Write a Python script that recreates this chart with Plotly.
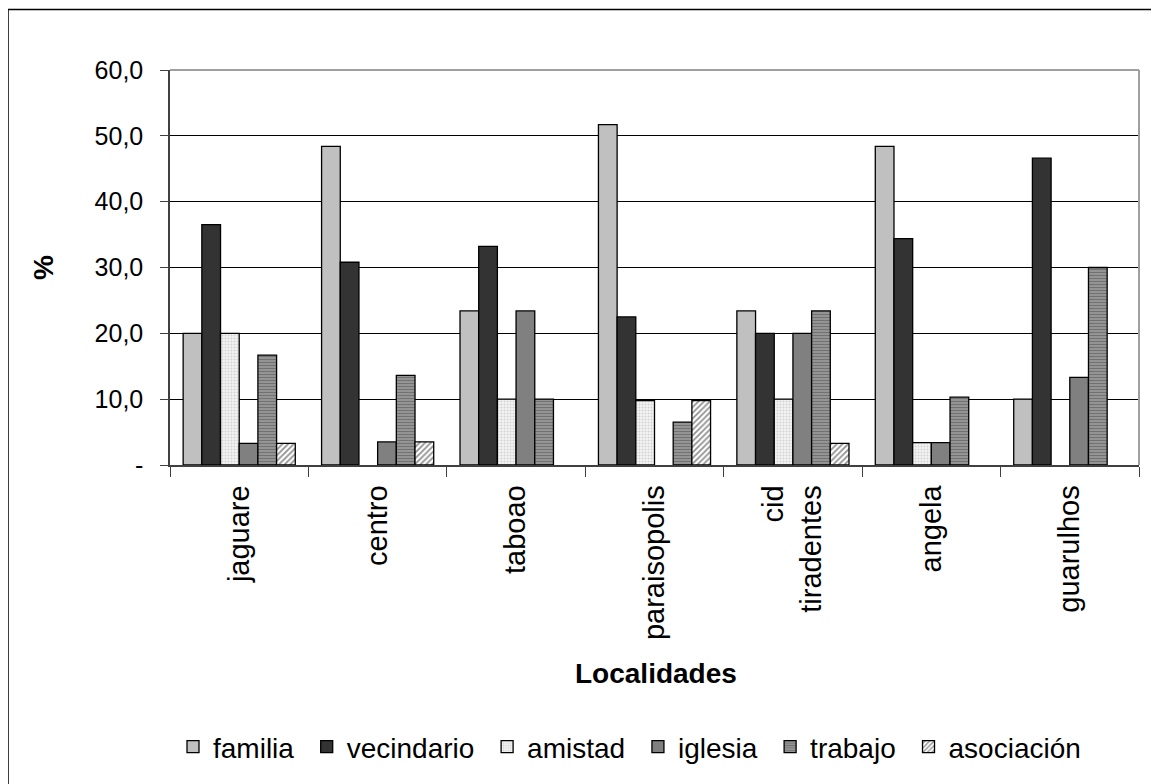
import plotly.graph_objects as go

categories = ["jaguare", "centro", "taboao", "paraisopolis", "cid<br>tiradentes", "angela", "guarulhos"]
familia    = [20.0, 48.4, 23.4, 51.7, 23.4, 48.4, 10.0]
vecindario = [36.5, 30.8, 33.2, 22.5, 20.0, 34.4, 46.6]
amistad    = [20.0, 0.0, 10.0, 9.8, 10.0, 3.4, 0.0]
iglesia    = [3.3, 3.5, 23.4, 0.0, 20.0, 3.4, 13.3]
trabajo    = [16.7, 13.6, 10.0, 6.5, 23.4, 10.3, 30.0]
asociacion = [3.3, 3.5, 0.0, 9.8, 3.3, 0.0, 0.0]

y_tickvals = [0, 10, 20, 30, 40, 50, 60]
y_ticktext = ["-", "10,0", "20,0", "30,0", "40,0", "50,0", "60,0"]

series = [
    ("familia", familia, dict(color="#C0C0C0")),
    ("vecindario", vecindario, dict(color="#333333")),
    ("amistad", amistad, dict(color="#FFFFFF", pattern=dict(shape=".", fgcolor="#B0B0B0", bgcolor="#F4F4F4", size=3, solidity=0.35))),
    ("iglesia", iglesia, dict(color="#808080")),
    ("trabajo", trabajo, dict(color="#808080", pattern=dict(shape="-", fgcolor="#4A4A4A", bgcolor="#9A9A9A", size=3, solidity=0.45))),
    ("asociación", asociacion, dict(color="#FFFFFF", pattern=dict(shape="/", fgcolor="#222222", bgcolor="#FFFFFF", size=4, solidity=0.45))),
]

fig = go.Figure()
for i, (name, vals, mk) in enumerate(series):
    mk = dict(mk)
    mk["line"] = dict(color="#000000", width=1.3)
    label = name + ("\u00a0" if i < len(series) - 1 else "")
    fig.add_trace(go.Bar(name=label, x=categories, y=[v if v else None for v in vals], marker=mk))

# page body adds an 8px offset; work in reference pixel coords and shift
OFF = 8
W, H = 1159 - OFF, 784 - OFF
L, R, T, B = 170 - OFF, 1139 - OFF, 70 - OFF, 465 - OFF
pw, ph = R - L, B - T

def px(x):
    return (x - OFF - L) / pw

def py(y):
    return (B - (y - OFF)) / ph

FONT = "Liberation Sans, Arial, sans-serif"

fig.update_layout(
    width=W, height=H,
    margin=dict(l=L, r=W - R, t=T, b=H - B),
    paper_bgcolor="white", plot_bgcolor="white",
    barmode="group", bargap=0.19, bargroupgap=0.0,
    font=dict(family=FONT, color="#000000", size=25),
    showlegend=True,
    legend=dict(orientation="h", x=px(173), xanchor="left", y=py(747), yanchor="middle",
                font=dict(size=28), itemwidth=30, tracegroupgap=0,
                bgcolor="rgba(0,0,0,0)"),
    xaxis=dict(type="category", tickson="boundaries", ticks="outside", ticklen=10,
               tickcolor="#404040", showline=True, linecolor="#404040", linewidth=1.5,
               tickangle=-90, tickfont=dict(size=29), showgrid=False,
               ticklabelstandoff=7),
    yaxis=dict(range=[0, 60], tickvals=y_tickvals, ticktext=y_ticktext,
               ticks="outside", ticklen=8, tickcolor="#404040",
               showline=True, linecolor="#404040", linewidth=1.5,
               showgrid=True, gridcolor="#000000", gridwidth=1,
               tickfont=dict(size=25), zeroline=False, ticklabelstandoff=12),
    shapes=[
        dict(type="line", xref="paper", yref="paper", x0=0, x1=1, y0=1, y1=1,
             line=dict(color="#A0A0A0", width=2)),
        dict(type="line", xref="paper", yref="paper", x0=1, x1=1, y0=0, y1=1,
             line=dict(color="#A0A0A0", width=2)),
        dict(type="rect", xref="paper", yref="paper", x0=px(8), x1=px(1170), y0=py(800), y1=py(9.5),
             line=dict(color="#000000", width=1.5), fillcolor="rgba(0,0,0,0)", layer="below"),
    ],
    annotations=[
        dict(text="<b>%</b>", xref="paper", yref="paper", x=px(43), y=py(268), showarrow=False,
             xanchor="center", yanchor="middle", textangle=-90, font=dict(size=28)),
        dict(text="<b>Localidades</b>", xref="paper", yref="paper", x=px(656), y=py(673), showarrow=False,
             xanchor="center", yanchor="middle", font=dict(size=28)),
    ],
)

fig.write_html("out.html")
